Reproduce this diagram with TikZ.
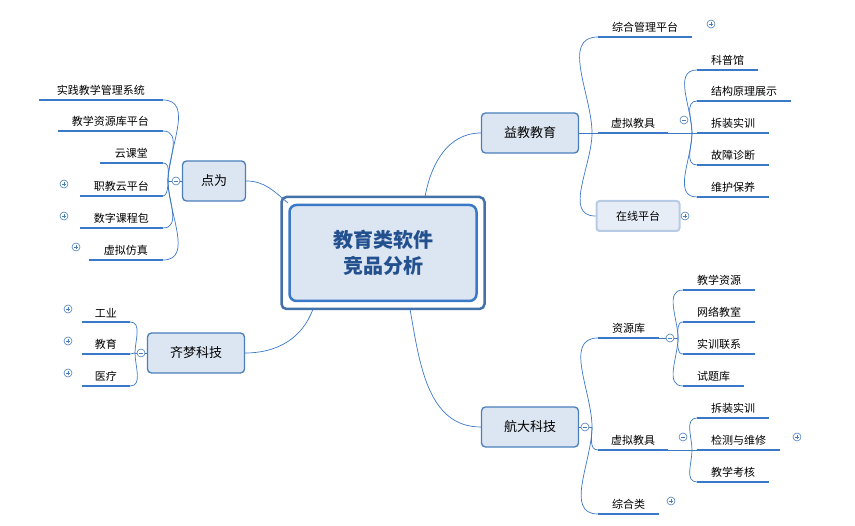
\documentclass[tikz,border=0pt]{standalone}
\usepackage{fontspec}
\setmainfont{Noto Sans CJK SC}
\usetikzlibrary{positioning}
\definecolor{lineblue}{HTML}{3A78C8}
\definecolor{boxfill}{HTML}{DCE6F2}
\definecolor{boxline}{HTML}{4A7EBB}
\definecolor{titleblue}{HTML}{23508F}
\tikzset{
	link/.style = {lineblue, line width=0.7pt},
	uline/.style = {lineblue, line width=2.2pt},
	branch/.style = {draw=boxline, fill=boxfill, line width=1.3pt, rounded corners=4pt,
		minimum width=97pt, minimum height=40pt, font=\fontsize{13}{15}\selectfont},
	leafr/.style = {anchor=south west, inner xsep=14pt, inner ysep=4pt, font=\fontsize{11}{13}\selectfont,
		append after command={(\tikzlastnode.south west) edge[uline] (\tikzlastnode.south east)}},
	leafl/.style = {leafr, anchor=south east},
	toggle/.style = {circle, draw=boxline, fill=white, inner sep=0pt, minimum size=8pt, line width=0.6pt},
	tplus/.style = {toggle, path picture={\draw[boxline,line width=0.6pt]
		(path picture bounding box.center)+(-2.2pt,0)--+(2.2pt,0)
		(path picture bounding box.center)+(0,-2.2pt)--+(0,2.2pt);}},
	tminus/.style = {toggle, path picture={\draw[boxline,line width=0.6pt]
		(path picture bounding box.center)+(-2.2pt,0)--+(2.2pt,0);}}
}
\begin{document}
\begin{tikzpicture}[x=1pt,y=1pt]
	\useasboundingbox (0,0) rectangle (855,-526);

	% centre
	\node (root)[draw=boxline!90!black, line width=2.5pt, rounded corners=5pt,
		minimum width=203pt, minimum height=112pt] at (383,-253) {};
	\node (title)[draw=lineblue, line width=2.5pt, fill=boxfill, rounded corners=7pt,
		minimum width=187pt, minimum height=96pt, align=center, text=titleblue,
		font=\fontsize{20}{26}\selectfont\bfseries] at (383,-253) {教育类软件\\竞品分析};

	% main branches
	\node (yj)[branch] at (530,-133) {益教教育};
	\node (dw)[branch, minimum width=63pt] at (214,-181) {点为};
	\node (qm)[branch] at (196,-353) {齐梦科技};
	\node (hd)[branch] at (530,-427) {航大科技};

	\draw [link](425,-197) to[out=80,in=180] (yj.west);
	\draw [link](288,-203) to[out=140,in=0] (dw.east);
	\draw [link](313,-309) to[out=-110,in=0] (qm.east);
	\draw [link](410,-309) to[out=-80,in=180] (hd.west);

	% 益教教育
	\coordinate (h1) at (592,-133);
	\draw [link](yj.east)--(h1);
	\node (zg)[leafr] at (598,-37) {综合管理平台};
	\node (xn)[leafr, inner xsep=13pt] at (598,-133) {虚拟教具};
	\node (zx)[draw=boxline!40, fill=boxfill!70, line width=2pt, rounded corners=3pt,
		minimum width=83pt, minimum height=30pt, font=\fontsize{11}{13}\selectfont] at (638,-216) {在线平台};
	\draw [link](h1) to[out=90,in=180] (zg.south west);
	\draw [link](h1)--(xn.south west);
	\draw [link](h1) to[out=-90,in=180] (zx.west);
	\node [tplus] at (711,-24) {};
	\node [tplus] at (685,-216) {};
	\node [tminus] at (684,-120) {};

	\coordinate (h2) at (692,-133);
	\draw [link](xn.south east)--(h2);
	\node (kp)[leafr] at (697,-70) {科普馆};
	\node (jg)[leafr] at (697,-101) {结构原理展示};
	\node (cz)[leafr] at (697,-133) {拆装实训};
	\node (gz)[leafr] at (697,-165) {故障诊断};
	\node (wh)[leafr] at (697,-197) {维护保养};
	\foreach \n in {kp,jg} \draw [link](h2) to[out=90,in=180] (\n.south west);
	\draw [link](h2)--(cz.south west);
	\foreach \n in {gz,wh} \draw [link](h2) to[out=-90,in=180] (\n.south west);

	% 点为
	\coordinate (h3) at (168,-181);
	\draw [link](dw.west)--(h3);
	\node [tminus] at (176,-181) {};
	\node (sj)[leafl, inner xsep=18pt] at (163,-100) {实践教学管理系统};
	\node (zy)[leafl] at (163,-131) {教学资源库平台};
	\node (yk)[leafl, inner xsep=15pt] at (163,-163) {云课堂};
	\node (zj)[leafl] at (163,-196) {职教云平台};
	\node (sz)[leafl] at (163,-228) {数字课程包};
	\node (xf)[leafl, inner xsep=15pt] at (163,-260) {虚拟仿真};
	\foreach \n in {sj,zy,yk,zj} \draw [link](h3) to[out=90,in=0] (\n.south east);
	\foreach \n in {sz,xf} \draw [link](h3) to[out=-90,in=0] (\n.south east);
	\node [tplus] at (64,-184) {};
	\node [tplus] at (64,-216) {};
	\node [tplus] at (76,-247) {};

	% 齐梦科技
	\coordinate (h4) at (135,-353);
	\draw [link](qm.west)--(h4);
	\node [tminus] at (141,-353) {};
	\node (gy)[leafl, inner xsep=13pt] at (130,-322) {工业};
	\node (jy)[leafl, inner xsep=13pt] at (130,-354) {教育};
	\node (yl)[leafl, inner xsep=13pt] at (130,-386) {医疗};
	\draw [link](h4) to[out=90,in=0] (gy.south east);
	\draw [link](h4)--(jy.south east);
	\draw [link](h4) to[out=-90,in=0] (yl.south east);
	\node [tplus] at (68,-309) {};
	\node [tplus] at (68,-341) {};
	\node [tplus] at (68,-373) {};

	% 航大科技
	\coordinate (h5) at (592,-427);
	\draw [link](hd.east)--(h5);
	\node [tminus] at (585,-427) {};
	\node (zyk)[leafr] at (598,-338) {资源库};
	\node (xn2)[leafr, inner xsep=13pt] at (598,-450) {虚拟教具};
	\node (zh)[leafr] at (598,-514) {综合类};
	\draw [link](h5) to[out=90,in=180] (zyk.south west);
	\draw [link](h5) to[out=-90,in=180] (xn2.south west);
	\draw [link](h5) to[out=-90,in=180] (zh.south west);
	\node [tplus] at (671,-501) {};

	\coordinate (h6) at (678,-338);
	\draw [link](zyk.south east)--(h6);
	\node [tminus] at (670,-338) {};
	\node (jx)[leafr] at (683,-290) {教学资源};
	\node (wl)[leafr] at (683,-322) {网络教室};
	\node (sx)[leafr] at (683,-354) {实训联系};
	\node (st)[leafr] at (683,-386) {试题库};
	\foreach \n in {jx,wl} \draw [link](h6) to[out=90,in=180] (\n.south west);
	\foreach \n in {sx,st} \draw [link](h6) to[out=-90,in=180] (\n.south west);

	\coordinate (h7) at (692,-450);
	\draw [link](xn2.south east)--(h7);
	\node [tminus] at (683,-437) {};
	\node (cz2)[leafr] at (697,-418) {拆装实训};
	\node (jc)[leafr] at (697,-450) {检测与维修};
	\node (kh)[leafr] at (697,-482) {教学考核};
	\draw [link](h7) to[out=90,in=180] (cz2.south west);
	\draw [link](h7)--(jc.south west);
	\draw [link](h7) to[out=-90,in=180] (kh.south west);
	\node [tplus] at (797,-437) {};
\end{tikzpicture}
\end{document}
